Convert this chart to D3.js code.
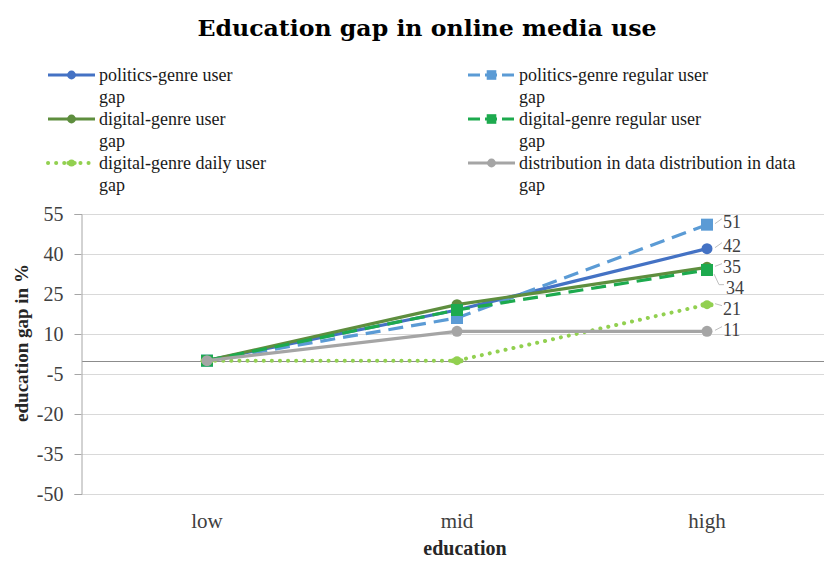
<!DOCTYPE html>
<html>
<head>
<meta charset="utf-8">
<script src="https://cdn.jsdelivr.net/npm/d3@7"></script>
<style>
  body { margin: 0; background: #fff; }
  svg { display: block; }
</style>
</head>
<body>
<svg id="chart"></svg>
<script>
// data
const categories = ['low', 'mid', 'high'];
const yTicks = [55, 40, 25, 10, -5, -20, -35, -50];

const politicsUser = [0, 19, 42];
const politicsRegular = [0, 16, 51];
const digitalUser = [0, 21, 35];
const digitalRegular = [0, 19, 34];
const digitalDaily = [0, 0, 21];
const distribution = [0, 11, 11];

const seriesNames = [
  'politics-genre user',
  'politics-genre regular user',
  'digital-genre user',
  'digital-genre regular user',
  'digital-genre daily user',
  'distribution in data distribution in data'
];

// constants
const width = 824;
const height = 561;
const margin = { left: 82, right: -8, top: 214, bottom: 67 };

const series = [
  { name: seriesNames[0], values: politicsUser, color: '#4472C4', dash: null, marker: 'circle' },
  { name: seriesNames[1], values: politicsRegular, color: '#5B9BD5', dash: '15,8', marker: 'square' },
  { name: seriesNames[2], values: digitalUser, color: '#5E8E3E', dash: null, marker: 'circle' },
  { name: seriesNames[3], values: digitalRegular, color: '#1DAA4E', dash: '15,8', marker: 'square' },
  { name: seriesNames[4], values: digitalDaily, color: '#92D050', dash: '0.1,8', marker: 'blob' },
  { name: seriesNames[5], values: distribution, color: '#A5A5A5', dash: null, marker: 'circle' }
];

const svg = d3.select('#chart')
  .attr('width', width)
  .attr('height', height)
  .style('font-family', '"Liberation Serif", "Times New Roman", serif');

const x = d3.scaleBand()
  .domain(categories)
  .range([margin.left, width - margin.right]);

const y = d3.scaleLinear()
  .domain([-50, 55])
  .range([height - margin.bottom, margin.top]);

const xc = d => x(d) + x.bandwidth() / 2;

// title
svg.append('text')
  .attr('x', 427)
  .attr('y', 36)
  .attr('text-anchor', 'middle')
  .attr('font-family', '"DejaVu Serif", serif')
  .attr('font-weight', 'bold')
  .attr('font-size', '22.5px')
  .attr('textLength', 459)
  .attr('lengthAdjust', 'spacingAndGlyphs')
  .attr('fill', '#000')
  .text('Education gap in online media use');

// gridlines
svg.append('g')
  .selectAll('line')
  .data(yTicks)
  .enter().append('line')
  .attr('x1', margin.left)
  .attr('x2', width)
  .attr('y1', d => Math.round(y(d)) + 0.5)
  .attr('y2', d => Math.round(y(d)) + 0.5)
  .attr('stroke', '#D9D9D9')
  .attr('stroke-width', 1);

// zero line
svg.append('line')
  .attr('x1', margin.left)
  .attr('x2', width)
  .attr('y1', Math.round(y(0)) + 0.5)
  .attr('y2', Math.round(y(0)) + 0.5)
  .attr('stroke', '#8C8C8C')
  .attr('stroke-width', 1);

// y axis
const yAxis = svg.append('g')
  .attr('transform', `translate(${margin.left - 0.5},0)`)
  .call(d3.axisLeft(y).tickValues(yTicks).tickSize(7).tickPadding(11).tickFormat(d3.format('d')));
yAxis.select('.domain').attr('stroke', '#A6A6A6');
yAxis.selectAll('.tick line').attr('stroke', '#A6A6A6');
yAxis.selectAll('.tick text')
  .attr('font-family', '"Liberation Serif", serif')
  .attr('font-size', '20px')
  .attr('fill', '#404040')
  .text(d => d < 0 ? '-' + Math.abs(d) : d);

// x labels
svg.append('g')
  .selectAll('text')
  .data(categories)
  .enter().append('text')
  .attr('x', d => xc(d))
  .attr('y', 528)
  .attr('text-anchor', 'middle')
  .attr('font-size', '21px')
  .attr('fill', '#404040')
  .text(d => d);

// axis titles
svg.append('text')
  .attr('x', 465)
  .attr('y', 555)
  .attr('text-anchor', 'middle')
  .attr('font-weight', 'bold')
  .attr('font-size', '20px')
  .attr('fill', '#262626')
  .text('education');

svg.append('text')
  .attr('transform', 'translate(28,343) rotate(-90)')
  .attr('text-anchor', 'middle')
  .attr('font-weight', 'bold')
  .attr('font-size', '19px')
  .attr('fill', '#262626')
  .text('education gap in %');

// lines
const line = d3.line()
  .x((d, i) => xc(categories[i]))
  .y(d => y(d));

function drawMarker(g, s, cx, cy, scale) {
  if (s.marker === 'circle') {
    g.append('circle')
      .attr('cx', cx).attr('cy', cy).attr('r', 5.5 * scale)
      .attr('fill', s.color);
  } else if (s.marker === 'square') {
    const w = 12 * scale;
    g.append('rect')
      .attr('x', cx - w / 2).attr('y', cy - w / 2)
      .attr('width', w).attr('height', w)
      .attr('fill', s.color);
  } else {
    g.append('circle')
      .attr('cx', cx).attr('cy', cy).attr('r', 4.5 * scale)
      .attr('fill', s.color);
    g.append('circle')
      .attr('cx', cx - 4 * scale).attr('cy', cy).attr('r', 2.5 * scale)
      .attr('fill', s.color);
    g.append('circle')
      .attr('cx', cx + 4 * scale).attr('cy', cy).attr('r', 2.5 * scale)
      .attr('fill', s.color);
  }
}

const plot = svg.append('g');
series.forEach(s => {
  const g = plot.append('g');
  g.append('path')
    .datum(s.values)
    .attr('d', line)
    .attr('fill', 'none')
    .attr('stroke', s.color)
    .attr('stroke-width', s.marker === 'blob' ? 4 : 3.2)
    .attr('stroke-linecap', s.marker === 'blob' ? 'round' : 'butt')
    .attr('stroke-dasharray', s.dash);
  s.values.forEach((v, i) => drawMarker(g, s, xc(categories[i]), y(v), 1));
});

// end labels (high) with simple overlap push
const labels = series.map(s => ({ v: s.values[2], ly: y(s.values[2]) - 3 }))
  .sort((a, b) => a.ly - b.ly);
labels.forEach((d, i) => {
  if (i > 0 && d.ly < labels[i - 1].ly + 21) d.ly = labels[i - 1].ly + 21;
});

const lx = xc('high');
const lab = svg.append('g');
labels.forEach(d => {
  const moved = d.ly - (y(d.v) - 3) > 8;
  lab.append('path')
    .attr('d', moved
      ? `M${lx + 7},${y(d.v) + 4}L${lx + 12},${d.ly - 3}L${lx + 17},${d.ly - 3}`
      : `M${lx + 8},${y(d.v) - 1}L${lx + 15},${d.ly - 3}`)
    .attr('fill', 'none')
    .attr('stroke', '#BFBFBF')
    .attr('stroke-width', 1);
  lab.append('text')
    .attr('x', lx + (moved ? 19 : 16))
    .attr('y', d.ly)
    .attr('dy', '0.35em')
    .attr('font-size', '18px')
    .attr('fill', '#404040')
    .text(d.v);
});

// legend, two columns
const legendCols = [48, 468];
const legendRows = [75, 119, 163];
const legend = svg.append('g');
series.forEach((s, i) => {
  const lx0 = legendCols[i % 2];
  const ly0 = legendRows[Math.floor(i / 2)];
  const g = legend.append('g');
  g.append('line')
    .attr('x1', lx0).attr('x2', lx0 + 47)
    .attr('y1', ly0).attr('y2', ly0)
    .attr('stroke', s.color)
    .attr('stroke-width', s.marker === 'blob' ? 4 : 3.2)
    .attr('stroke-linecap', s.marker === 'blob' ? 'round' : 'butt')
    .attr('stroke-dasharray', s.marker === 'blob' ? '0.1,8' : (s.dash ? '12,5' : null));
  drawMarker(g, s, lx0 + 23.5, ly0, 0.8);
  const t = g.append('text')
    .attr('x', lx0 + 51)
    .attr('y', ly0)
    .attr('dy', '0.35em')
    .attr('font-size', '18px')
    .attr('fill', '#1a1a1a');
  t.append('tspan').text(s.name);
  t.append('tspan').attr('x', lx0 + 51).attr('dy', 22).text('gap');
});
</script>
</body>
</html>
